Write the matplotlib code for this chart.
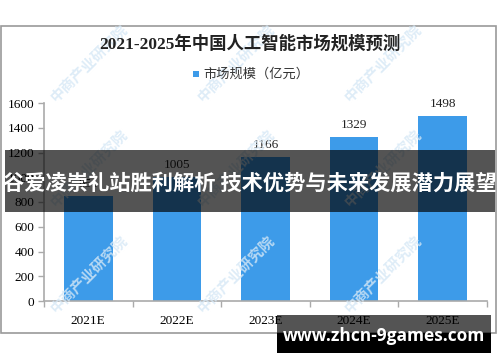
import matplotlib
matplotlib.use('Agg')
import matplotlib.pyplot as plt
from matplotlib.patches import Rectangle

plt.rcParams['font.family'] = ['Noto Sans CJK SC', 'DejaVu Sans']

# ========== 数据 ==========
years = ['2021E', '2022E', '2023E', '2024E', '2025E']
market_size = [851, 1005, 1166, 1329, 1498]
y_ticks = [0, 200, 400, 600, 800, 1000, 1200, 1400, 1600]

title = '2021-2025年中国人工智能市场规模预测'
legend_label = '市场规模（亿元）'
banner_text = '谷爱凌崇礼站胜利解析 技术优势与未来发展潜力展望'
site_text = 'www.zhcn-9games.com'
watermark = '中商产业研究院'

W, H = 500, 362


def px(x, y):
    """像素坐标 -> figure 坐标"""
    return x / W, 1 - y / H


fig = plt.figure(figsize=(W / 100, H / 100), dpi=100)
fig.patch.set_facecolor('white')

# 图表外框
fig.patches.append(Rectangle(px(1, 333), 495 / W, 307 / H, transform=fig.transFigure,
                             facecolor='none', edgecolor='#9a9a9a', lw=1.2, zorder=0))

# 水印
for wx in [55, 202, 349]:
    for wy in [105, 210, 316]:
        fig.text(*px(wx + 4, wy), watermark, rotation=45, ha='left', va='bottom',
                 rotation_mode='anchor', fontsize=10.5, fontweight='bold',
                 color='#d6e8f6', alpha=0.8, zorder=0.5)

ax = fig.add_axes([44 / W, 1 - 301 / H, 443 / W, 198 / H])
ax.set_facecolor('none')
x = list(range(len(years)))
ax.bar(x, market_size, width=0.55, color='#3d9be9', zorder=2, label=legend_label)
for xi, v in zip(x, market_size):
    ax.text(xi, v + 45, str(v), ha='center', va='bottom', fontsize=9.5,
            family=['Liberation Serif'], color='#222222')

ax.set_xlim(-0.5, 4.5)
ax.set_ylim(0, 1600)
ax.set_yticks(y_ticks)
ax.set_yticklabels([str(t) for t in y_ticks], family=['Liberation Serif'], fontsize=9.5)
ax.set_xticks(x)
ax.set_xticklabels(years, family=['Liberation Serif'], fontsize=9.5)
ax.set_xticks([-0.5, 0.5, 1.5, 2.5, 3.5, 4.5], minor=True)
ax.tick_params(axis='x', which='major', length=0, pad=10)
ax.tick_params(axis='x', which='minor', length=4, color='#aaaaaa', width=1)
ax.tick_params(axis='y', length=4, color='#aaaaaa', width=1, pad=3)
for s in ['top', 'right']:
    ax.spines[s].set_visible(False)
for s in ['left', 'bottom']:
    ax.spines[s].set_color('#aaaaaa')
    ax.spines[s].set_linewidth(1.2)

# 标题与图例
fig.text(*px(250, 44), title, ha='center', va='center', fontsize=12.5,
         fontweight='bold', family=['Liberation Serif', 'Noto Sans CJK SC'], color='#222222')
fig.patches.append(Rectangle(px(193, 77), 6 / W, 6 / H, transform=fig.transFigure,
                             facecolor='#3d9be9', edgecolor='none'))
fig.text(*px(203, 74), legend_label, ha='left', va='center', fontsize=9.5, color='#333333')

# 横幅
fig.patches.append(Rectangle(px(5, 212), 490 / W, 62 / H, transform=fig.transFigure,
                             facecolor='black', alpha=0.67, edgecolor='none', zorder=5))
fig.text(*px(250, 183), banner_text, ha='center', va='center', fontsize=15.3,
         fontweight='bold', color='white', zorder=6)

# 网址框
fig.patches.append(Rectangle(px(277, 333), 214 / W, 18 / H, transform=fig.transFigure,
                             facecolor='black', alpha=0.67, edgecolor='none', zorder=5))
fig.patches.append(Rectangle(px(277, 353), 214 / W, 20 / H, transform=fig.transFigure,
                             facecolor='black', edgecolor='none', zorder=5))
fig.text(*px(384, 336), site_text, ha='center', va='center', fontsize=12.5,
         fontweight='bold', family=['Open Sans', 'DejaVu Sans'], color='white', zorder=6)

fig.savefig('out.png', dpi=100)
